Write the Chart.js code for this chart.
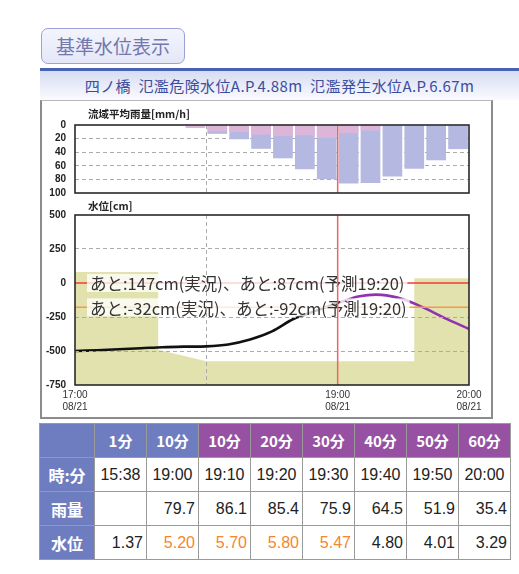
<!DOCTYPE html>
<html lang="ja">
<head>
<meta charset="utf-8">
<title>基準水位表示</title>
<script src="https://cdn.jsdelivr.net/npm/chart.js@4.4.1/dist/chart.umd.min.js"></script>
<style>
  html, body { margin: 0; padding: 0; background: #fff; }
  body { width: 519px; height: 574px; position: relative; overflow: hidden;
    font-family: "Noto Sans CJK JP", sans-serif; }
  #btn { position: absolute; left: 41px; top: 28px; width: 144px; height: 36px; box-sizing: border-box;
    border: 1.5px solid #9ba1d6; border-radius: 7px; background: linear-gradient(#f3f4fc, #e4e7f7);
    color: #7378ad; font-size: 19px; line-height: 33px; text-align: center; }
  #bar { position: absolute; left: 40px; top: 68px; width: 479px; height: 3px; background: #4a62b4; }
  #head { position: absolute; left: 40px; top: 71px; width: 479px; height: 29px;
    background: linear-gradient(#d6dcf3, #fbfbfe); color: #3c4d9e; font-size: 15px;
    letter-spacing: 0.4px; line-height: 30px; text-align: center; }
  #frame { position: absolute; left: 40px; top: 100px; width: 453px; height: 319px;
    box-sizing: border-box; border: 2px solid #8c8c8c; border-top: 1px solid #b8b8b8; }
  canvas { position: absolute; left: 40px; }
  #rainChart { top: 100px; }
  #levelChart { top: 200px; }
  .ttl { position: absolute; left: 88px; font-size: 10.5px; font-weight: bold; color: #222; }
  #tbl { position: absolute; left: 39px; top: 423px; border-collapse: collapse; table-layout: fixed; }
  #tbl td { border: 1px solid #9a9a9a; height: 34px; padding: 0 3px; box-sizing: border-box;
    font-family: "Liberation Sans", Arial, sans-serif; font-size: 16px; color: #222; text-align: right; }
  #tbl td.c { text-align: center; }
  #tbl td.h { color: #fff; font-family: "Noto Sans CJK JP", sans-serif; font-weight: bold;
    font-size: 15px; text-align: center; }
  #tbl td.rl { font-size: 16px; }
  .obs { background: #6e7dc0; }
  .fc { background: #9651a3; }
</style>
</head>
<body>
<div id="btn">基準水位表示</div>
<div id="bar"></div>
<div id="head">四ノ橋&nbsp; 氾濫危険水位A.P.4.88m&nbsp; 氾濫発生水位A.P.6.67m</div>
<div id="frame"></div>
<canvas id="rainChart" width="451" height="100"></canvas>
<canvas id="levelChart" width="451" height="217"></canvas>
<div class="ttl" style="top:106px">流域平均雨量[mm/h]</div>
<div class="ttl" style="top:198px">水位[cm]</div>
<table id="tbl"></table>

<script>
// 流域平均雨量 (10分間、終了時刻)
const rainTimes = ["18:00", "18:10", "18:20", "18:30", "18:40", "18:50", "19:00",
  "19:10", "19:20", "19:30", "19:40", "19:50", "20:00"];
const rainRate = [null, 13, 21, 35, 49, 65, 79.7, 86.1, 85.4, 75.9, 64.5, 51.9, 35.4];
const rainObs = [4.5, 9, 10, 14, 16, 15, 19, 12, 8, null, null, null, null];

// 水位 (氾濫発生水位からの差 cm)
const obsTimes = ["17:00", "17:10", "17:20", "17:30", "17:40", "17:50", "18:00",
  "18:10", "18:20", "18:30", "18:40", "18:50", "19:00"];
const obsLevel = [-500, -494, -487, -480, -472, -468, -466, -452, -416, -356, -263, -205, -147];
const fcTimes = ["19:00", "19:10", "19:20", "19:30", "19:40", "19:50", "20:00"];
const fcLevel = [-147, -97, -87, -120, -187, -266, -338];

// 背景の帯
const bandTimes = ["17:00", "17:38", "17:38", "18:00", "19:35", "19:35", "20:00"];
const bandLevel = [80, 80, -490, -575, -575, 35, 35];

// 基準線と注記
const noteLevels = [0, -179];
const noteColors = ["#f23a3a", "#f39b48"];
const noteTexts = ["あと:147cm(実況)、あと:87cm(予測19:20)", "あと:-32cm(実況)、あと:-92cm(予測19:20)"];

// 軸
const startTime = "17:00";
const nowTime = "19:00";
const xTickTimes = ["17:00", "19:00", "20:00"];
const xTickDates = ["08/21", "08/21", "08/21"];

// 表
const colHeads = ["1分", "10分", "10分", "20分", "30分", "40分", "50分", "60分"];
const colKinds = ["obs", "obs", "fc", "fc", "fc", "fc", "fc", "fc"];
const tblTimes = ["15:38", "19:00", "19:10", "19:20", "19:30", "19:40", "19:50", "20:00"];
const tblRain = ["", "79.7", "86.1", "85.4", "75.9", "64.5", "51.9", "35.4"];
const tblLevel = ["1.37", "5.20", "5.70", "5.80", "5.47", "4.80", "4.01", "3.29"];
const dangerLevel = 4.88;

function toMin(t) {
  const p = t.split(":");
  const s = startTime.split(":");
  return (+p[0] * 60 + +p[1]) - (+s[0] * 60 + +s[1]);
}
const NOW = toMin(nowTime);
const TICK_FONT = { family: "'Liberation Sans', Arial, sans-serif", size: 10, weight: "bold" };
const GRID = "#ababab";

const framePlugin = {
  id: "frame",
  afterDraw(chart) {
    const { ctx, chartArea: a, scales } = chart;
    const xn = scales.x.getPixelForValue(NOW);
    ctx.save();
    ctx.strokeStyle = "#f06464";
    ctx.lineWidth = 1.5;
    ctx.beginPath();
    ctx.moveTo(xn, a.top);
    ctx.lineTo(xn, a.bottom);
    ctx.stroke();
    ctx.strokeStyle = "#2a2a2a";
    ctx.lineWidth = 1.6;
    ctx.strokeRect(a.left, a.top, a.width, a.height);
    ctx.restore();
  },
};

const notePlugin = {
  id: "notes",
  afterDatasetsDraw(chart) {
    const { ctx, chartArea: a, scales } = chart;
    ctx.save();
    noteLevels.forEach((v, i) => {
      const y = scales.y.getPixelForValue(v);
      ctx.strokeStyle = noteColors[i];
      ctx.lineWidth = 1.5;
      ctx.beginPath();
      ctx.moveTo(a.left, y);
      ctx.lineTo(a.right, y);
      ctx.stroke();
    });
    ctx.font = "16.5px 'Noto Sans CJK JP', sans-serif";
    ctx.textBaseline = "middle";
    noteLevels.forEach((v, i) => {
      const y = scales.y.getPixelForValue(v);
      const w = ctx.measureText(noteTexts[i]).width;
      ctx.fillStyle = "rgba(255,255,255,0.78)";
      ctx.fillRect(a.left + 12, y - 9, w + 6, 18);
      ctx.fillStyle = "#333";
      ctx.fillText(noteTexts[i], a.left + 15, y + 1);
    });
    ctx.restore();
  },
};

function xScale(showLabels) {
  return {
    type: "linear", min: 0, max: toMin("20:00"), offset: false,
    afterBuildTicks: (s) => { s.ticks = [0, 60, 120, 180].map((v) => ({ value: v })); },
    afterFit: (s) => { s.height = showLabels ? 32 : 0; },
    grid: {
      drawTicks: false, offset: false,
      color: (c) => (c.tick && c.tick.value === 60 ? GRID : "transparent"),
    },
    border: { display: false, dash: [4, 3] },
    ticks: {
      display: showLabels, padding: 4, maxRotation: 0, autoSkip: false, color: "#333",
      font: { family: "'Liberation Sans', Arial, sans-serif", size: 10 },
      callback: (v) => {
        const k = xTickTimes.findIndex((t) => toMin(t) === v);
        return k < 0 ? "" : [xTickTimes[k], xTickDates[k]];
      },
    },
  };
}

function yScale(min, max, step, reverse) {
  return {
    min: min, max: max, reverse: reverse,
    afterFit: (s) => { s.width = 35; s.paddingTop = 0; s.paddingBottom = 0; },
    grid: {
      drawTicks: false,
      color: (c) => (c.tick && c.tick.value !== min && c.tick.value !== max &&
        noteLevels.indexOf(c.tick.value) < 0 ? GRID : "transparent"),
    },
    border: { display: false, dash: [4, 3] },
    ticks: { stepSize: step, padding: 9, autoSkip: false, color: "#222", font: TICK_FONT },
  };
}

// 雨量
const yR = yScale(0, 100, 20, true);
yR.grid.color = (c) => (c.tick && c.tick.value > 0 && c.tick.value < 100 ? GRID : "transparent");
new Chart(document.getElementById("rainChart"), {
  type: "bar",
  data: {
    datasets: [
      {
        data: rainTimes.map((t, i) => ({ x: toMin(t) - 5, y: rainObs[i] })),
        backgroundColor: "#ddb5d8", order: 1, grouped: false,
      },
      {
        data: rainTimes.map((t, i) => ({ x: toMin(t) - 5, y: rainRate[i] })),
        backgroundColor: "#b5b9e1", order: 2, grouped: false,
      },
    ],
  },
  options: {
    responsive: false, animation: false,
    layout: { padding: { top: 25, right: 22, bottom: 7, left: 0 } },
    barPercentage: 0.9, categoryPercentage: 1,
    plugins: { legend: { display: false }, tooltip: { enabled: false } },
    scales: { x: xScale(false), y: yR },
  },
  plugins: [framePlugin],
});

// 水位
const yL = yScale(-750, 500, 250, false);
yL.grid.z = 1;
const xL = xScale(true);
xL.grid.z = 1;
new Chart(document.getElementById("levelChart"), {
  type: "line",
  data: {
    datasets: [
      {
        data: obsTimes.map((t, i) => ({ x: toMin(t), y: obsLevel[i] })),
        borderColor: "#111", borderWidth: 2.6, tension: 0.35, pointRadius: 0, order: 1,
      },
      {
        data: fcTimes.map((t, i) => ({ x: toMin(t), y: fcLevel[i] })),
        borderColor: "#9132b2", borderWidth: 2.6, tension: 0.3, pointRadius: 0, order: 2,
      },
      {
        data: bandTimes.map((t, i) => ({ x: toMin(t), y: bandLevel[i] })),
        borderWidth: 0, backgroundColor: "#e2e2ae", fill: "start", pointRadius: 0, order: 3,
      },
    ],
  },
  options: {
    responsive: false, animation: false,
    layout: { padding: { top: 15, right: 22, bottom: 0, left: 0 } },
    plugins: { legend: { display: false }, tooltip: { enabled: false } },
    scales: { x: xL, y: yL },
  },
  plugins: [notePlugin, framePlugin],
});

// 表
(function () {
  const tbl = document.getElementById("tbl");
  const widths = [55].concat(colHeads.map(() => 52));
  const cg = document.createElement("colgroup");
  widths.forEach((w) => {
    const c = document.createElement("col");
    c.style.width = w + "px";
    cg.appendChild(c);
  });
  tbl.appendChild(cg);
  let html = '<tr><td class="h obs"></td>' +
    colHeads.map((h, i) => '<td class="h ' + colKinds[i] + '">' + h + "</td>").join("") + "</tr>";
  html += '<tr><td class="h obs rl">時:分</td>' +
    tblTimes.map((t) => '<td class="c">' + t + "</td>").join("") + "</tr>";
  html += '<tr><td class="h obs rl">雨量</td>' +
    tblRain.map((r) => "<td>" + r + "</td>").join("") + "</tr>";
  html += '<tr><td class="h obs rl">水位</td>' +
    tblLevel.map((l) => '<td style="color:' + (+l > dangerLevel ? "#f5862e" : "#222") + '">' + l + "</td>").join("") + "</tr>";
  tbl.innerHTML += html;
})();
</script>
</body>
</html>
